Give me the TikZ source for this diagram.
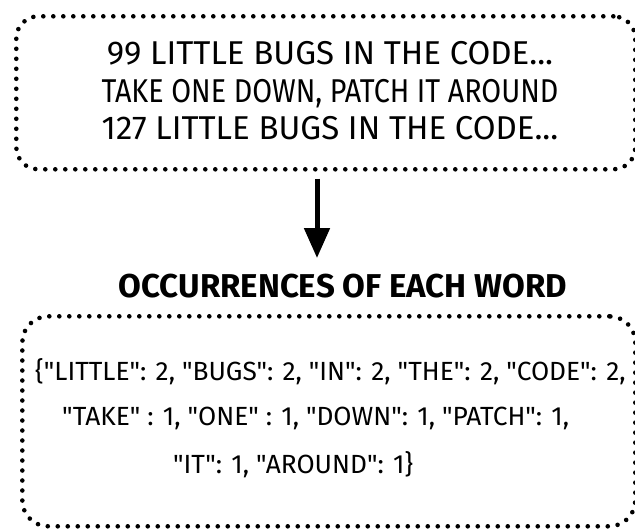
\documentclass[tikz,border=0pt]{standalone}
\usepackage{graphicx}
\usepackage{fontspec}
\newfontfamily\handfont{Fira Sans}
\usetikzlibrary{arrows.meta,positioning}

\begin{document}
\begin{tikzpicture}[x=1pt,y=-1pt,>={Triangle[length=30pt,width=25pt]}]
  \tikzset{
    dotbox/.style={draw,line width=4.6pt,dash pattern=on 0pt off 10pt,line cap=round,rounded corners=22pt,inner sep=0pt},
    hand/.style={font=\handfont\fontsize{33}{37.5}\selectfont,inner sep=0pt},
    dict/.style={font=\handfont\fontsize{26.3}{30}\selectfont,inner sep=0pt,anchor=west},
    flow/.style={->,line width=5pt,shorten <=7pt}
  }
  \useasboundingbox (0,0) rectangle (635,531);

  % input lyrics
  \node[dotbox,minimum width=619pt,minimum height=153pt,anchor=north west] (song) at (14,14) {};
  \node[hand,align=center] (lyrics) at (330,91) {99 LITTLE BUGS IN THE CODE...\\\scalebox{0.87}[1]{TAKE ONE DOWN, PATCH IT AROUND}\\127 LITTLE BUGS IN THE CODE...};

  % result
  \node[hand,font=\handfont\bfseries\fontsize{33}{37}\selectfont] (title) at (343,286) {OCCURRENCES OF EACH WORD};
  \coordinate (tip) at (317,258);
  \draw[flow] (song.south -| tip) -- (tip);

  \node[dotbox,minimum width=613pt,minimum height=210pt,anchor=north west,rounded corners=26pt] (counts) at (20,314) {};
  \node[dict] (row1) at (35,372) {\{"LITTLE": 2, "BUGS": 2, "IN": 2, "THE": 2, "CODE": 2,};
  \node[dict] (row2) at (62,418) {"TAKE" : 1, "ONE" : 1, "DOWN": 1, "PATCH": 1,};
  \node[dict] (row3) at (173,465) {"IT": 1, "AROUND": 1\}};
\end{tikzpicture}
\end{document}
